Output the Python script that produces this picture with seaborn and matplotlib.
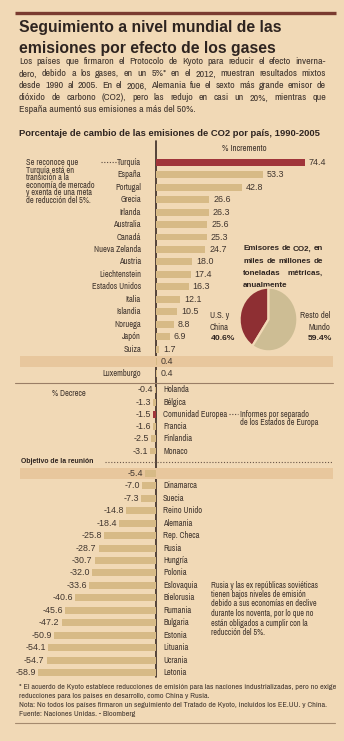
import matplotlib
matplotlib.use("Agg")
import matplotlib.pyplot as plt
import seaborn as sns
import pandas as pd
from matplotlib import font_manager
from matplotlib.font_manager import FontProperties

# ---------------- data ----------------
pos_names = ["Turquía", "España", "Portugal", "Grecia", "Irlanda", "Australia", "Canadá",
             "Nueva Zelanda", "Austria", "Liechtenstein", "Estados Unidos", "Italia",
             "Islandia", "Noruega", "Japón", "Suiza", "", "Luxemburgo"]
pos_values = [74.4, 53.3, 42.8, 26.6, 26.3, 25.6, 25.3, 24.7, 18.0, 17.4, 16.3, 12.1,
              10.5, 8.8, 6.9, 1.7, 0.4, 0.4]
pos_band_rows = [16]
pos_red_rows = [0]

eu_names = ["Holanda", "Bélgica", "Comunidad Europea", "Francia", "Finlandia", "Monaco"]
eu_values = [-0.4, -1.3, -1.5, -1.6, -2.5, -3.1]
eu_red_rows = [2]

neg_names = ["", "Dinamarca", "Suecia", "Reino Unido", "Alemania", "Rep. Checa", "Rusia",
             "Hungría", "Polonia", "Eslovaquia", "Bielorusia", "Rumania", "Bulgaria",
             "Estonia", "Lituania", "Ucrania", "Letonia"]
neg_values = [-5.4, -7.0, -7.3, -14.8, -18.4, -25.8, -28.7, -30.7, -32.0, -33.6, -40.6,
              -45.6, -47.2, -50.9, -54.1, -54.7, -58.9]
neg_band_rows = [0]

pie_labels = ["U.S. y China", "Resto del Mundo"]
pie_values = [40.6, 59.4]

# ---------------- style ----------------
sns.set_theme(style="white")
plt.rcParams["font.family"] = ["Liberation Sans", "DejaVu Sans"]

BG = "#f1d9b6"
TAN = "#d7ba86"
RED = "#a0353a"
PIE_RED = "#8e2f33"
PIE_TAN = "#cdbd94"
BAND = "#e8c79d"
INK = "#2e2420"
TXT = "#40352e"
RULE = "#7a3b30"

W, H = 344, 741
fig = plt.figure(figsize=(W / 100, H / 100), dpi=100)
fig.patch.set_facecolor(BG)
R = fig.canvas.get_renderer()


# ---- pick a condensed face for the narrow newspaper type ----
def _is_regular(f):
    w = f.weight
    okw = w in (400, "normal", "regular", "book") or (isinstance(w, int) and 350 <= w <= 450)
    return okw and f.style == "normal"


def pick_narrow():
    fl = font_manager.fontManager.ttflist
    tests = [
        lambda f: f.name == "Liberation Sans Narrow",
        lambda f: "Narrow" in f.name,
        lambda f: f.name == "Roboto Condensed",
        lambda f: "Condensed" in f.name and "Semi" not in f.name and "Extra" not in f.name,
        lambda f: "Condensed" in f.fname and "Semi" not in f.fname and "Extra" not in f.fname,
        lambda f: str(f.stretch) in ("condensed", "semi-condensed"),
    ]
    for t in tests:
        c = [f for f in fl if _is_regular(f) and t(f)]
        if c:
            return c[0].fname
    return None


_np = pick_narrow()
NARROW_FP = FontProperties(fname=_np) if _np else FontProperties(family="Liberation Sans")
_sample = "Estados Unidos Nueva Zelanda"
_ta = fig.text(0, 0, _sample, fontsize=10, family="Liberation Sans")
_tb = fig.text(0, 0, _sample, fontproperties=NARROW_FP.copy())
_tb.set_fontsize(10)
NS = min(1.0, 0.82 * _ta.get_window_extent(R).width / _tb.get_window_extent(R).width)
_ta.remove()
_tb.remove()


def nfp(size):
    fp = NARROW_FP.copy()
    fp.set_size(size * NS)
    return fp


def axes_px(left, top, width, height, z=1):
    ax = fig.add_axes([left / W, 1 - (top + height) / H, width / W, height / H], zorder=z)
    ax.set_facecolor("none")
    return ax


# background / annotation layer in pixel units
bg = axes_px(0, 0, W, H, z=0)
bg.set_xlim(0, W)
bg.set_ylim(H, 0)
bg.axis("off")


def width_of(s, **kw):
    t = bg.text(0, 0, s, **kw)
    w = t.get_window_extent(R).width
    t.remove()
    return w


def fit(x, y, s, width, size0=8, **kw):
    t = bg.text(x, y, s, fontsize=size0, **kw)
    w = t.get_window_extent(R).width
    t.set_fontsize(size0 * width / w)
    return t


def justify(line, x0, x1, y, **kw):
    words = line.split()
    ts = [bg.text(0, y, w, **kw) for w in words]
    ws = [t.get_window_extent(R).width for t in ts]
    gap = (x1 - x0 - sum(ws)) / max(len(words) - 1, 1)
    x = x0
    for t, w in zip(ts, ws):
        t.set_x(x)
        x += w + gap


def paragraph(lines, x0, x1, y0, pitch, maxsize, narrow=True, **kw):
    size = maxsize
    for ln in lines[:-1]:
        if narrow:
            w = width_of(ln, fontproperties=nfp(10))
        else:
            w = width_of(ln, fontsize=10, **kw)
        size = min(size, 10 * (x1 - x0) / w)
    for i, ln in enumerate(lines):
        y = y0 + i * pitch
        props = dict(fontproperties=nfp(size), **kw) if narrow else dict(fontsize=size, **kw)
        if i < len(lines) - 1:
            justify(ln, x0, x1, y, **props)
        else:
            bg.text(x0, y, ln, **props)
    return size


# top and bottom rules
bg.plot([15, 336], [12.5, 12.5], color=RULE, lw=2.4, solid_capstyle="butt")
bg.plot([15, 335], [722.5, 722.5], color="#a58a6e", lw=0.8)

# title
t1 = fit(19, 32, "Seguimiento a nivel mundial de las", 264, 11, weight="bold", color=INK)
bg.text(19, 53, "emisiones por efecto de los gases", fontsize=t1.get_fontsize(),
        weight="bold", color=INK)

# body paragraph (justified)
body = ["Los países que firmaron el Protocolo de Kyoto para reducir el efecto inverna-",
        "dero, debido a los gases, en un 5%* en el 2012, muestran resultados mixtos",
        "desde 1990 al 2005. En el 2006, Alemania fue el sexto más grande emisor de",
        "dióxido de carbono (CO2), pero las redujo en casi un 20%, mientras que",
        "España aumentó sus emisiones a más del 50%."]
paragraph(body, 19, 326, 64.3, 12.05, 7.2, narrow=True, color=TXT)

# subtitle
fit(19, 136, "Porcentaje de cambio de las emisiones de CO2 por país, 1990-2005", 301, 7,
    weight="bold", color=INK)
bg.text(222, 148.5, "% Incremento", fontproperties=nfp(6.4), color=TXT, va="center")

# zero axis line
bg.plot([156, 156], [141, 677], color="#3a2a24", lw=1.2)

# separators
bg.plot([15, 333], [382.5, 382.5], color="#9a7e66", lw=0.8)
bg.plot([105, 333], [461.5, 461.5], color="#6a5648", lw=0.8, ls=(0, (1, 1.6)))

# ---------------- bar panels ----------------
XL = (-78, 94)
NAME_SIZE = 6.1
VAL_FS = 6.4


def panel(names, values, top_center, pitch, red_rows=(), band_rows=(), positive=True):
    n = len(names)
    ax = axes_px(0, top_center - pitch / 2, W, n * pitch, z=2)
    keys = [f"r{i:02d}" for i in range(n)]
    df = pd.DataFrame({"row": keys, "value": values})
    pal = {k: (RED if i in red_rows else TAN) for i, k in enumerate(keys)}
    for i in band_rows:
        ax.axhspan(i - 0.46, i + 0.46, xmin=20 / W, xmax=333 / W, color=BAND, lw=0, zorder=0)
    sns.barplot(data=df, x="value", y="row", hue="row", palette=pal, order=keys,
                orient="h", width=0.56, saturation=1, legend=False, errorbar=None,
                linewidth=0, ax=ax)
    ax.set_xlim(*XL)
    ax.set_ylim(n - 0.5, -0.5)
    ax.axis("off")
    for i, (nm, v) in enumerate(zip(names, values)):
        if positive:
            ax.annotate(f"{v:.1f}", (v, i), xytext=(4, 0), textcoords="offset pixels",
                        ha="left", va="center", fontsize=VAL_FS, color=TXT)
            if nm:
                ax.annotate(nm, (0, i), xytext=(-15, 0), textcoords="offset pixels",
                            ha="right", va="center", fontproperties=nfp(NAME_SIZE),
                            color=TXT)
        else:
            ax.annotate(f"{v:.1f}", (v, i), xytext=(-2, 0), textcoords="offset pixels",
                        ha="right", va="center", fontsize=VAL_FS, color=TXT)
            if nm:
                ax.annotate(nm, (0, i), xytext=(7, 0), textcoords="offset pixels",
                            ha="left", va="center", fontproperties=nfp(NAME_SIZE),
                            color=TXT)
    return ax


panel(pos_names, pos_values, 162.3, 12.45, pos_red_rows, pos_band_rows, True)
panel(eu_names, eu_values, 390.0, 12.2, eu_red_rows, (), False)
panel(neg_names, neg_values, 473.3, 12.46, (), neg_band_rows, False)

# ---------------- annotations ----------------
ASZ = 6.0
turq = ["Se reconoce que", "Turquía está en", "transición a la", "economía de mercado",
        "y exenta de una meta", "de reducción del 5%."]
for i, s in enumerate(turq):
    bg.text(26, 162.7 + i * 7.5, s, fontproperties=nfp(ASZ), color=TXT, va="center")
bg.plot([101, 118], [162.3, 162.3], color="#5a4a40", lw=0.8, ls=(0, (1, 1.5)))

bg.text(52, 393.3, "% Decrece", fontproperties=nfp(6.1), color=TXT, va="center")
bg.plot([229, 238], [414.3, 414.3], color="#5a4a40", lw=0.8, ls=(0, (1, 1.5)))
bg.text(240, 414.3, "Informes por separado", fontproperties=nfp(ASZ), color=TXT,
        va="center")
bg.text(240, 422.7, "de los Estados de Europa", fontproperties=nfp(ASZ), color=TXT,
        va="center")

fit(20.7, 461.7, "Objetivo de la reunión", 73.6, 6, weight="bold", color=INK, va="center")

sov = ["Rusia y las ex repúblicas soviéticas", "tienen bajos niveles de emisión",
       "debido a sus economías en declive", "durante los noventa, por lo que no",
       "están obligados a cumplir con la", "reducción del 5%."]
for i, s in enumerate(sov):
    bg.text(211, 585 + i * 9.5, s, fontproperties=nfp(5.9), color=TXT, va="center")

# pie inset
ptitle = ["Emisores de CO2, en", "miles de millones de", "toneladas métricas,", "anualmente"]
paragraph(ptitle, 243, 323, 250.5, 12.1, 5.9, narrow=False, weight="bold", color=INK)

axp = axes_px(239, 287, 59, 65, z=3)
axp.pie(pie_values, colors=[PIE_RED, PIE_TAN], startangle=90, counterclock=True,
        wedgeprops=dict(edgecolor=BG, linewidth=1.6))
axp.set_aspect("auto")
axp.set_xlim(-1.02, 1.02)
axp.set_ylim(-1.02, 1.02)
axp.axis("off")

lab_l = pie_labels[0].rsplit(" ", 1)
lab_r = pie_labels[1].rsplit(" ", 1)
PSZ = 6.3
bg.text(210, 316, lab_l[0], fontproperties=nfp(PSZ), color=TXT, va="center")
bg.text(210, 327.5, lab_l[1], fontproperties=nfp(PSZ), color=TXT, va="center")
bg.text(211, 338.5, f"{pie_values[0]:.1f}%", fontsize=6.1, weight="bold", color=INK,
        va="center")
bg.text(330, 316, lab_r[0], fontproperties=nfp(PSZ), color=TXT, va="center", ha="right")
bg.text(330, 327.5, lab_r[1], fontproperties=nfp(PSZ), color=TXT, va="center", ha="right")
bg.text(332, 338.5, f"{pie_values[1]:.1f}%", fontsize=6.1, weight="bold", color=INK,
        va="center", ha="right")

# footnotes
foot = ["* El acuerdo de Kyoto establece reducciones de emisión para las naciones "
        "industrializadas, pero no exige",
        "reducciones para los países en desarrollo, como China y Rusia.",
        "Nota: No todos los países firmaron un seguimiento del Tratado de Kyoto, "
        "incluidos los EE.UU. y China.",
        "Fuente: Naciones Unidas. - Bloomberg"]
w0 = width_of(foot[0], fontproperties=nfp(10))
fsz = 10 * 316 / w0
for i, s in enumerate(foot):
    bg.text(19, 686.7 + i * 9.1, s, fontproperties=nfp(fsz), color=TXT, va="center")

fig.savefig("out.png", dpi=100, facecolor=BG)
